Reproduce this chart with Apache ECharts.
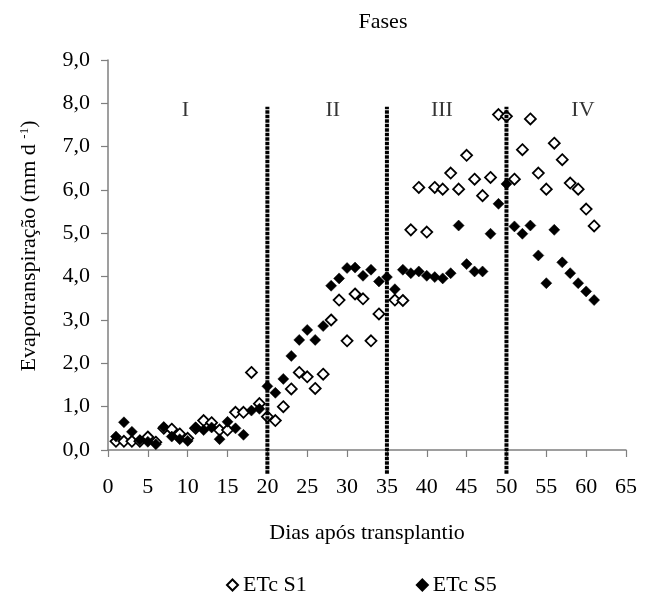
<!DOCTYPE html>
<html><head><meta charset="utf-8">
<script src="https://cdn.jsdelivr.net/npm/echarts@6/dist/echarts.min.js"></script>
<style>html,body{margin:0;padding:0;background:#fff}#c{width:648px;height:596px}</style>
</head><body><div id="c"></div>
<script>
const days = [1,2,3,4,5,6,7,8,9,10,11,12,13,14,15,16,17,18,19,20,21,22,23,24,25,26,27,28,29,30,31,32,33,34,35,36,37,38,39,40,41,42,43,44,45,46,47,48,49,50,51,52,53,54,55,56,57,58,59,60,61];
const etcS1 = [0.20,0.20,0.20,0.20,0.30,0.18,0.50,0.48,0.37,0.27,
  0.50,0.68,0.63,0.46,0.46,0.87,0.87,1.79,1.07,0.77,
  0.68,1.00,1.41,1.79,1.69,1.42,1.75,3.00,3.46,2.52,
  3.60,3.49,2.52,3.14,null,3.46,3.45,5.08,6.06,5.03,
  6.06,6.02,6.39,6.02,6.80,6.25,5.87,6.29,7.74,7.70,
  6.25,6.93,7.64,6.39,6.02,7.08,6.70,6.16,6.02,5.56,5.17];
const etcS5 = [0.31,0.64,0.42,0.23,0.19,0.13,0.53,0.31,0.25,0.21,
  0.52,0.46,0.52,0.25,0.65,0.50,0.35,0.91,0.95,1.47,
  1.32,1.64,2.17,2.54,2.77,2.54,2.86,3.79,3.96,4.20,
  4.21,4.02,4.16,3.89,3.99,3.71,4.16,4.08,4.12,4.02,
  3.99,3.96,4.08,5.18,4.29,4.12,4.12,4.99,5.68,6.14,
  5.16,4.99,5.18,4.49,3.85,5.08,4.33,4.08,3.85,3.66,3.46];
const seriesNames = ['ETc S1', 'ETc S5'];
const phaseBounds = [20, 35, 50];
const phaseLineRange = [-0.55, 7.92];
const phaseNames = ['I', 'II', 'III', 'IV'];
const phaseNameX = [9.7, 28.2, 41.9, 59.6];
const phaseNameY = 7.85;
const xAxisRange = [0, 65, 5];
const yAxisRange = [0, 9, 1];

const FONT = 'Liberation Serif';
const FS = 22;
const axisGrey = '#7f7f7f';

const pairs = arr => days.map((d, i) => [d, arr[i]]).filter(p => p[1] !== null);

const series = [
  {
    name: seriesNames[0], type: 'scatter', symbol: 'diamond', symbolSize: 11,
    itemStyle: { color: '#ffffff', borderColor: '#000000', borderWidth: 1.8, opacity: 1 },
    data: pairs(etcS1), z: 3
  },
  {
    name: seriesNames[1], type: 'scatter', symbol: 'diamond', symbolSize: 11,
    itemStyle: { color: '#000000', borderColor: '#000000', borderWidth: 0.5, opacity: 1 },
    data: pairs(etcS5), z: 4
  },
  {
    name: 'phaseNames', type: 'scatter', symbolSize: 0, silent: true, z: 5,
    data: phaseNameX.map(x => [x, phaseNameY]),
    label: {
      show: true, position: 'inside',
      formatter: p => phaseNames[p.dataIndex],
      fontFamily: FONT, fontSize: FS, color: '#000'
    }
  }
];
phaseBounds.forEach(b => {
  series.push({
    type: 'line', silent: true, clip: false, symbol: 'none', z: 6,
    data: [[b, phaseLineRange[0]], [b, phaseLineRange[1]]],
    lineStyle: { color: '#000', width: 4, type: [3.5, 1] }
  });
});

const chart = echarts.init(document.getElementById('c'), null, { renderer: 'canvas' });
chart.setOption({
  animation: false,
  backgroundColor: '#fff',
  textStyle: { fontFamily: FONT },
  grid: { left: 108, right: 22, top: 60, bottom: 146 },
  legend: {
    data: seriesNames, left: 226, top: 574, itemGap: 109, padding: 0,
    itemWidth: 11, itemHeight: 11,
    textStyle: { fontFamily: FONT, fontSize: FS, color: '#000' }
  },
  graphic: [
    { type: 'text', x: 383, y: 22, style: { text: 'Fases', font: FS + 'px "' + FONT + '"', fill: '#000', align: 'center', verticalAlign: 'middle' } },
    { type: 'text', x: 29, y: 246, rotation: Math.PI / 2,
      style: {
        text: 'Evapotranspiração (mm d {sup|-1})',
        fontFamily: FONT, fontSize: FS, fill: '#000', align: 'center', verticalAlign: 'middle',
        rich: { sup: { fontFamily: FONT, fontSize: 13, verticalAlign: 'top', lineHeight: 13, fill: '#000' } }
      } }
  ],
  xAxis: {
    type: 'value', min: xAxisRange[0], max: xAxisRange[1], interval: xAxisRange[2],
    name: 'Dias após transplantio', nameLocation: 'middle', nameGap: 72,
    nameTextStyle: { fontFamily: FONT, fontSize: FS, color: '#000' },
    axisLine: { show: true, onZero: false, lineStyle: { color: axisGrey, width: 1.5 } },
    axisTick: { show: true, inside: false, length: 7, lineStyle: { color: axisGrey, width: 1.2 } },
    axisLabel: { fontFamily: FONT, fontSize: FS, color: '#000', margin: 26 },
    splitLine: { show: false }
  },
  yAxis: {
    type: 'value', min: yAxisRange[0], max: yAxisRange[1], interval: yAxisRange[2],
    axisLine: { show: true, lineStyle: { color: axisGrey, width: 1.5 } },
    axisTick: { show: true, inside: false, length: 7, lineStyle: { color: axisGrey, width: 1.2 } },
    axisLabel: { fontFamily: FONT, fontSize: FS, color: '#000', margin: 18,
      formatter: v => v.toFixed(1).replace('.', ',') },
    splitLine: { show: false }
  },
  series: series
});
</script></body></html>
